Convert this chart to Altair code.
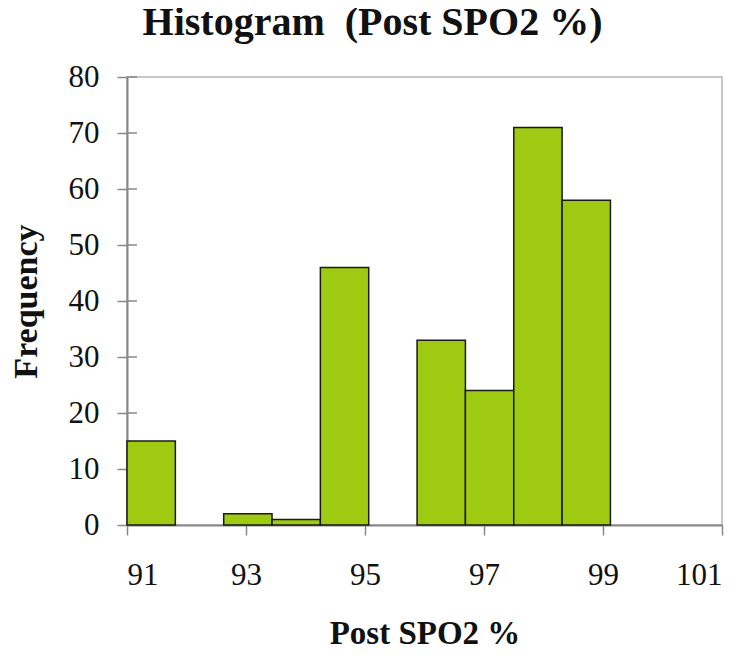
import altair as alt
import pandas as pd

# Histogram bins (Post SPO2 %) and frequencies
bin_start = [91.0, 91.8125, 92.625, 93.4375, 94.25, 95.0625, 95.875, 96.6875, 97.5, 98.3125]
bin_end = [91.8125, 92.625, 93.4375, 94.25, 95.0625, 95.875, 96.6875, 97.5, 98.3125, 99.125]
frequency = [15, 0, 2, 1, 46, 0, 33, 24, 71, 58]

x_ticks = [91, 93, 95, 97, 99, 101]
y_ticks = [0, 10, 20, 30, 40, 50, 60, 70, 80]

bars_df = pd.DataFrame({"start": bin_start, "end": bin_end, "count": frequency})
ticks_df = pd.DataFrame({"t": y_ticks})

FONT = "Liberation Serif"
AXIS_GRAY = "#888888"

x_scale = alt.Scale(domain=[91, 101], nice=False, zero=False)
y_scale = alt.Scale(domain=[0, 80], nice=False)

bars = alt.Chart(bars_df).transform_filter("datum.count > 0").mark_bar(
    fill="#9ecb12", stroke="#1a1a1a", strokeWidth=1.5
).encode(
    x=alt.X("start:Q", scale=x_scale,
            axis=alt.Axis(values=x_ticks, format="d", title="Post SPO2 %",
                          grid=False, tickSize=10, tickColor=AXIS_GRAY, tickWidth=1.5,
                          domainColor=AXIS_GRAY, domainWidth=2,
                          labelFont=FONT, labelFontSize=31, labelColor="#111111",
                          labelBaseline="alphabetic", labelPadding=49,
                          titleFont=FONT, titleFontSize=33, titleFontWeight="bold",
                          titleColor="#111111", titleBaseline="alphabetic", titleY=118)),
    x2="end:Q",
    y=alt.Y("count:Q", scale=y_scale,
            axis=alt.Axis(values=y_ticks, title="Frequency",
                          grid=False, tickSize=10, tickColor=AXIS_GRAY, tickWidth=1.5,
                          domainColor=AXIS_GRAY, domainWidth=2,
                          labelFont=FONT, labelFontSize=31, labelColor="#111111",
                          labelPadding=18,
                          titleFont=FONT, titleFontSize=34, titleFontWeight="bold",
                          titleColor="#111111", titleBaseline="alphabetic", titleX=-91)),
    y2=alt.datum(0),
)

inner_ticks = alt.Chart(ticks_df).mark_rule(color=AXIS_GRAY, strokeWidth=1.5).encode(
    y=alt.Y("t:Q", scale=y_scale),
    x=alt.value(0),
    x2=alt.value(10),
)

chart = alt.layer(inner_ticks, bars).properties(
    width=595,
    height=448,
    autosize=alt.AutoSizeParams(type="none"),
    padding={"left": 119, "top": 69, "right": 20, "bottom": 132},
    title=alt.TitleParams(
        text="Histogram \u00a0(Post SPO2 %)",
        font=FONT, fontSize=40, fontWeight="bold", color="#111111",
        anchor="middle", frame="group", baseline="alphabetic", offset=10, dx=-52, dy=24,
    ),
).configure_view(stroke="#b5b5b5", strokeWidth=1.5)

chart.save("out.html", embed_options={"renderer": "svg", "actions": False})
